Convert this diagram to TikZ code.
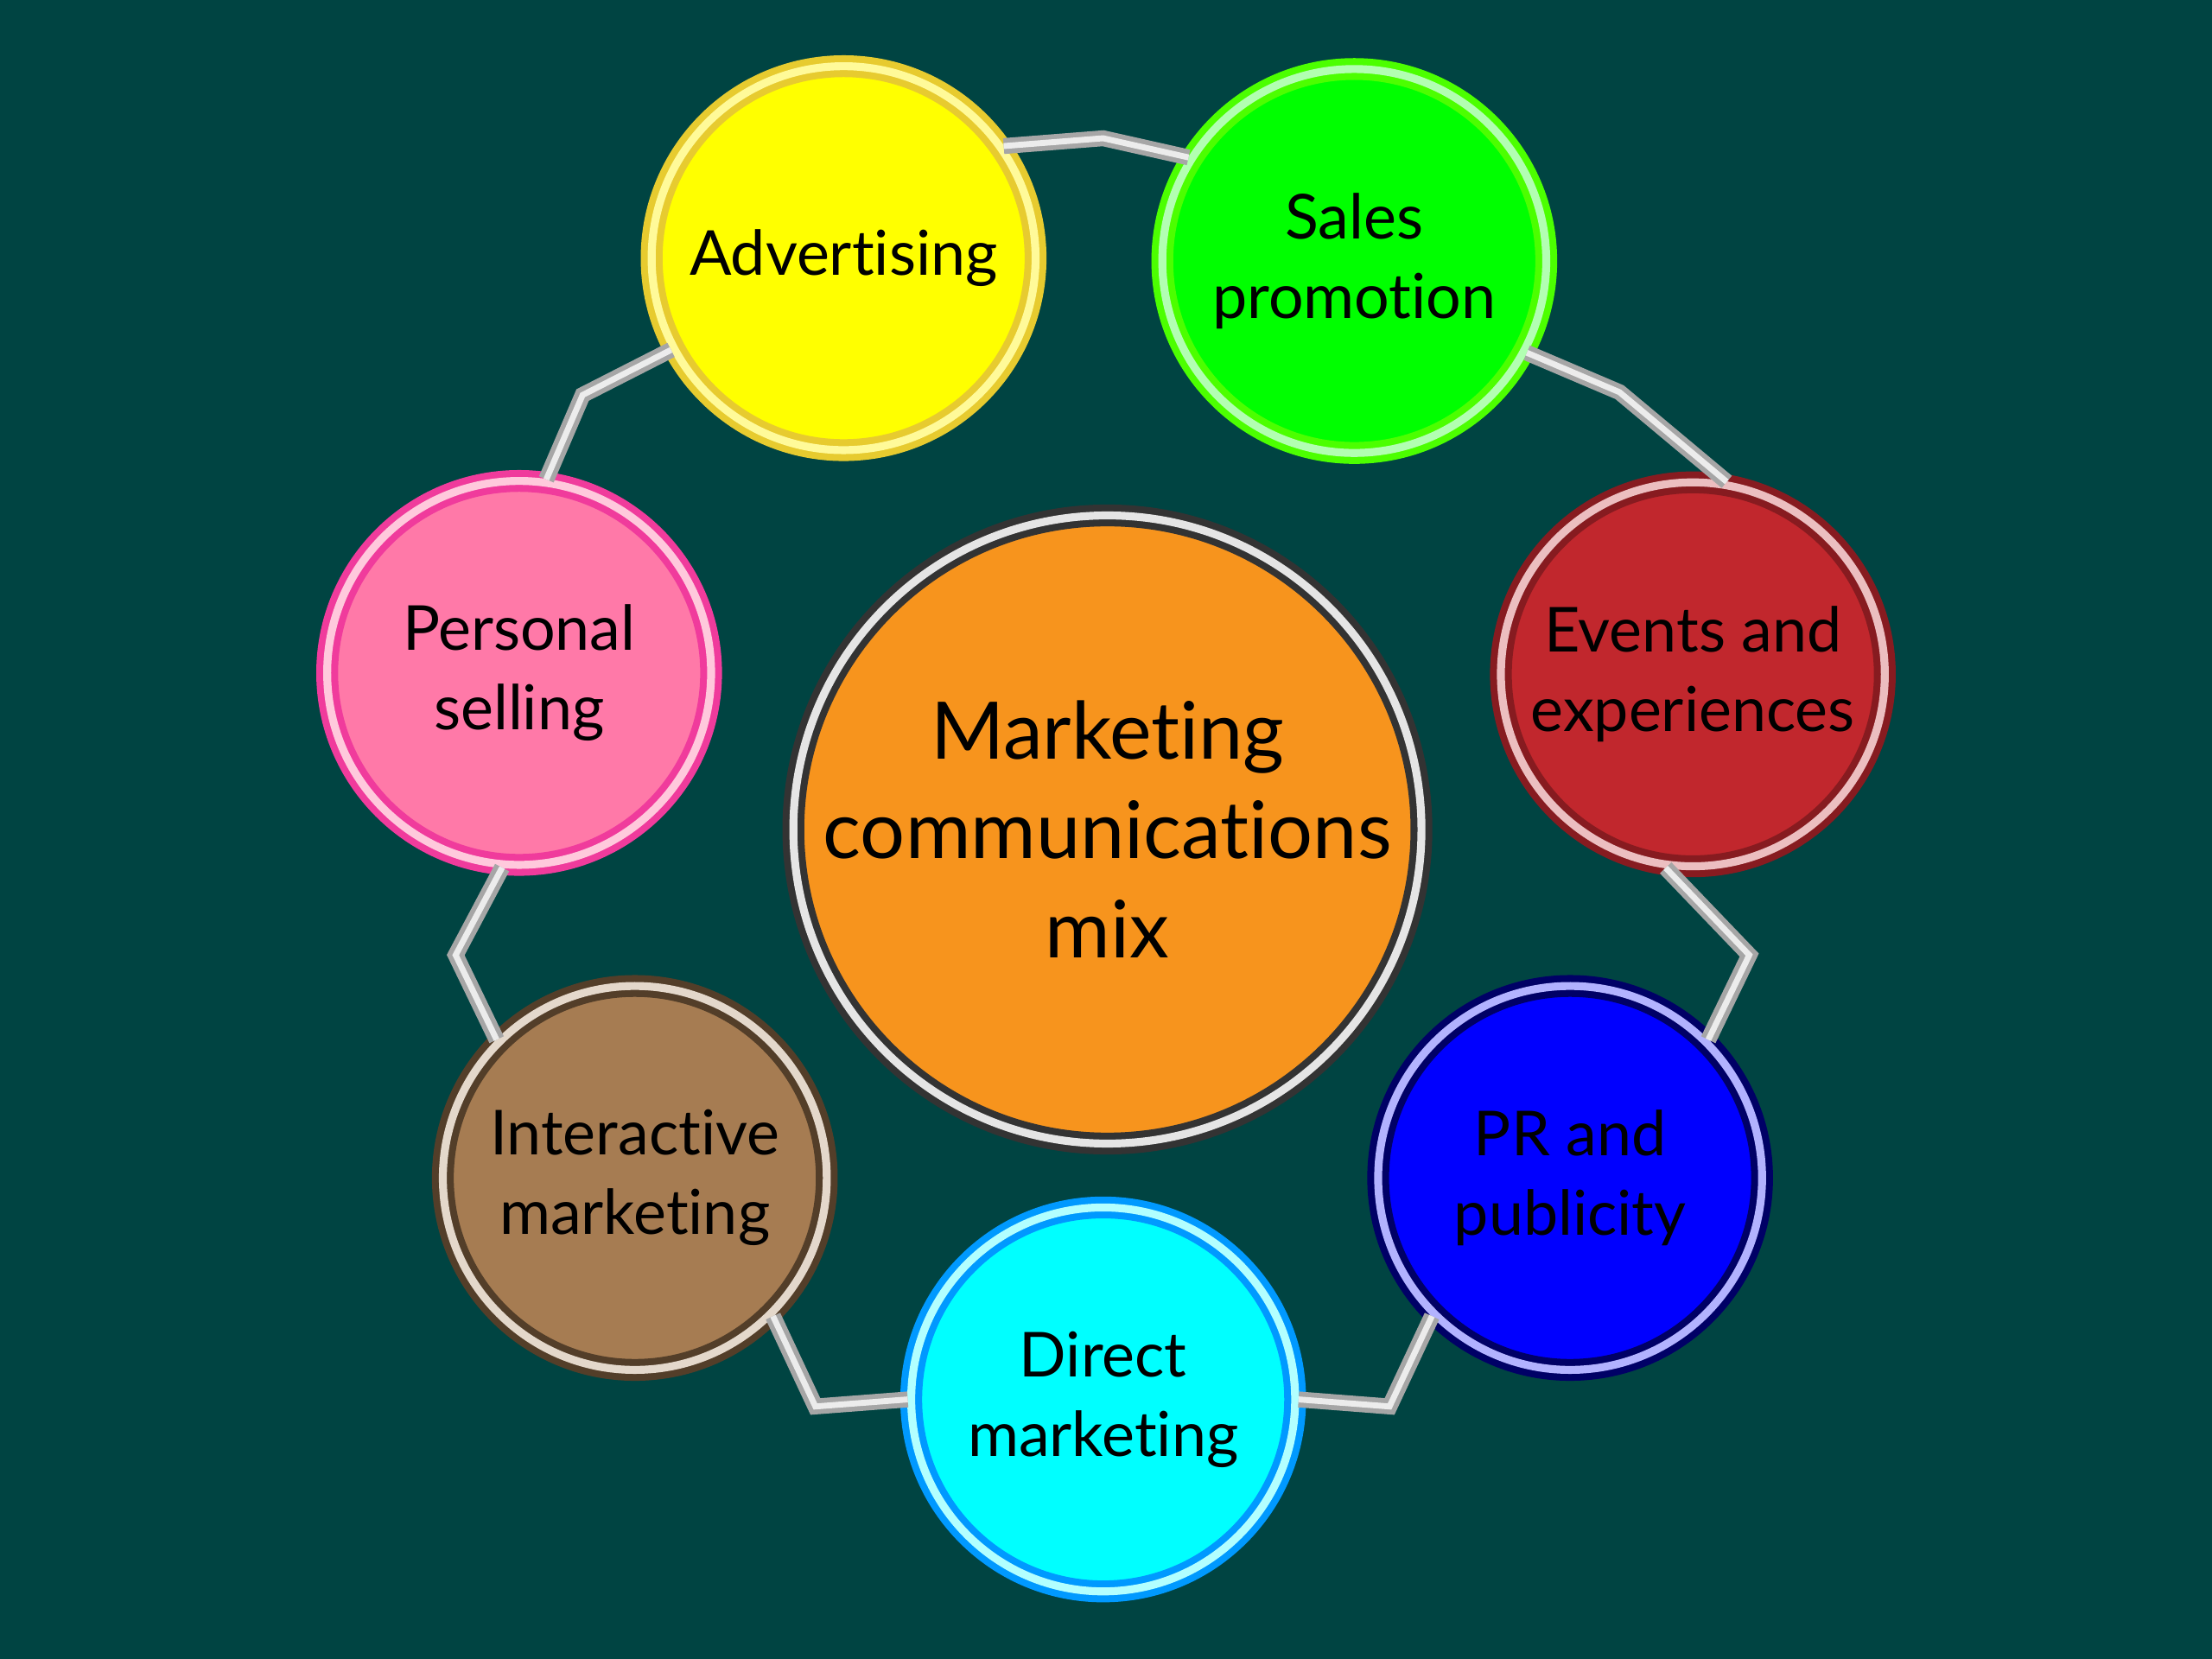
\documentclass[tikz,border=0pt]{standalone}
\usepackage{fontspec}
\setmainfont{Lato}[Ligatures=NoCommon]
\definecolor{bgteal}{RGB}{0,68,66}
\definecolor{cPink}{RGB}{255,121,168}
\definecolor{cBrown}{RGB}{166,124,82}
\definecolor{cRed}{RGB}{193,39,45}
\definecolor{cOrange}{RGB}{247,148,29}
\definecolor{cCyan}{RGB}{0,255,255}
\definecolor{cGreen}{RGB}{0,255,0}
\definecolor{cYellow}{RGB}{255,255,0}
\definecolor{cBlue}{RGB}{0,0,255}
\begin{document}
\begin{tikzpicture}[x=0.01cm,y=-0.01cm,
  item/.style={circle, inner sep=0pt, minimum size=2.72cm, align=center,
    font=\fontsize{12.5}{16}\selectfont, text=black, line width=1.4pt, double distance=1.6pt},
  hub/.style={item, minimum size=4.45cm, font=\fontsize{16}{20}\selectfont},
  link/.style={draw=gray!70, double=white!85!gray, line width=1pt, double distance=1.2pt}]
  % background
  \fill[bgteal] (0,0) rectangle (1568,1176);

  % center
  \node[hub, fill=cOrange, draw=black!80, double=white!80!gray] (mix) at (785,588)
    {Marketing\\communications\\mix};

  % ring of tools
  \node[item, fill=cYellow, draw=yellow!60!brown, double=yellow!40] (adv) at (598,183) {Advertising};
  \node[item, fill=cGreen, draw=green!70!yellow, double=green!30] (sales) at (960,185) {Sales\\promotion};
  \node[item, fill=cRed, draw=cRed!70!black, double=cRed!30] (events) at (1200,478) {Events and\\experiences};
  \node[item, fill=cBlue, draw=blue!40!black, double=blue!30] (pr) at (1113,835) {PR and\\publicity};
  \node[item, fill=cCyan, draw=cCyan!60!blue, double=cCyan!30] (direct) at (782,992) {Direct\\marketing};
  \node[item, fill=cBrown, draw=cBrown!50!black, double=cBrown!30] (inter) at (450,835) {Interactive\\marketing};
  \node[item, fill=cPink, draw=magenta!70!pink, double=cPink!40] (pers) at (368,477) {Personal\\selling};

  % bends
  \coordinate (b1) at (782,98);
  \coordinate (b2) at (1148,278);
  \coordinate (b3) at (1240,677);
  \coordinate (b4) at (985,997);
  \coordinate (b5) at (578,997);
  \coordinate (b6) at (323,677);
  \coordinate (b7) at (413,280);

  % connectors
  \draw[link] (adv.35) -- (b1) -- (sales.148);
  \draw[link] (sales.-28) -- (b2) -- (events.80);
  \draw[link] (events.-98) -- (b3) -- (pr.45);
  \draw[link] (pr.-135) -- (b4) -- (direct.0);
  \draw[link] (direct.180) -- (b5) -- (inter.-45);
  \draw[link] (inter.135) -- (b6) -- (pers.-95);
  \draw[link] (pers.82) -- (b7) -- (adv.-152);
\end{tikzpicture}
\end{document}
